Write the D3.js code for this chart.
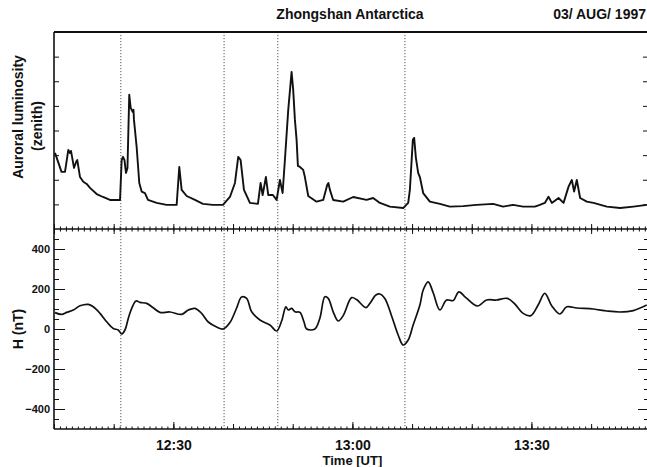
<!DOCTYPE html>
<html><head><meta charset="utf-8">
<script src="https://cdn.jsdelivr.net/npm/d3@7"></script>
<style>
html,body{margin:0;padding:0;background:#fff;}
svg{display:block;font-family:"Liberation Sans",Arial,Helvetica,sans-serif;}
</style></head>
<body><svg id="c" width="647" height="467"></svg>
<script>
// time in minutes after 12:00 UT
const title = "Zhongshan Antarctica";
const dateLabel = "03/ AUG/ 1997";
const xTickValues = [30, 60, 90];
const xTickLabels = ["12:30", "13:00", "13:30"];
const hTickValues = [-400, -200, 0, 200, 400];
const markerTimes = [21.2, 38.5, 47.5, 68.8];

const lumTime = [10.17,11.26,11.84,12.40,12.68,12.85,13.35,13.77,13.90,14.36,14.91,15.48,16.03,17.15,18.21,19.38,21.06,21.34,21.56,21.81,22.06,22.31,22.61,22.85,23.18,23.32,23.40,23.85,24.29,24.69,25.24,25.75,27.20,28.88,30.55,30.99,31.39,32.23,33.62,34.96,36.63,38.31,39.48,40.32,40.87,41.27,41.83,42.83,44.17,44.62,44.96,45.51,45.90,46.68,47.30,47.86,48.31,48.69,49.25,49.81,50.08,50.37,50.65,50.87,51.21,51.76,52.04,52.60,54.00,55.11,55.78,55.98,56.23,56.78,58.46,60.13,62.38,63.48,64.61,66.28,68.51,69.35,69.63,70.13,70.35,70.64,71.02,71.31,71.86,72.98,74.66,76.33,78.56,80.80,83.58,85.26,86.93,88.61,90.57,91.41,92.24,92.86,93.42,94.54,95.38,96.22,96.77,97.15,97.60,98.16,99.28,100.40,102.63,104.86,107.10,109.33];
const lumValue = [3.09,2.32,2.32,3.21,3.09,3.17,2.48,2.76,2.80,2.11,1.92,1.83,1.67,1.42,1.30,1.18,1.18,2.80,2.93,2.80,2.28,2.48,5.45,4.92,4.76,4.84,4.43,3.33,1.87,1.52,1.46,1.18,1.06,0.98,0.98,2.52,1.59,1.34,1.18,1.02,0.98,0.98,1.30,1.87,2.93,2.80,1.59,1.06,1.02,1.87,1.38,2.11,1.38,1.38,1.18,1.99,1.46,2.80,4.84,6.38,5.65,4.43,3.62,2.56,2.52,2.40,2.11,1.34,1.11,1.18,1.79,1.87,1.59,1.18,1.11,1.30,1.18,1.26,1.06,0.91,0.85,1.06,1.59,3.62,3.70,2.89,2.28,2.11,1.46,1.11,1.02,0.91,0.93,0.98,1.02,0.91,0.98,0.91,0.91,0.98,1.06,1.31,1.06,1.26,1.06,1.72,1.99,1.52,1.99,1.26,1.11,1.06,0.91,0.85,0.91,0.98];

const hTime = [10.17,11.29,12.13,13.23,14.36,15.75,16.58,17.71,18.83,19.93,20.77,21.34,21.89,22.45,23.02,23.74,24.41,25.53,26.63,27.76,29.43,31.39,32.50,33.62,34.74,35.85,37.25,38.36,39.48,40.60,41.43,42.28,43.12,44.51,46.18,47.30,48.14,48.86,49.25,49.82,50.37,51.21,51.88,52.33,53.72,54.56,55.39,55.95,56.78,57.62,58.46,59.87,60.70,62.26,62.93,63.94,64.61,65.44,66.57,67.67,68.51,69.35,70.18,71.31,71.86,72.70,73.53,74.66,75.78,76.88,77.84,79.01,80.94,82.48,84.15,85.96,87.22,88.61,89.90,91.12,92.24,93.42,94.76,95.93,97.60,100.37,102.63,104.81,107.07,109.33];
const hValue = [82,73,83,95,116,123,111,78,36,3,-5,-25,-5,53,103,140,133,128,106,83,85,73,95,103,78,35,10,0,32,105,160,153,86,45,20,-10,40,111,95,103,86,83,36,0,0,55,161,153,86,40,67,157,147,107,128,170,175,153,65,-30,-80,-55,20,120,195,236,182,95,145,142,186,157,115,145,145,153,125,78,67,120,178,115,75,111,105,100,90,85,92,120];

const svg = d3.select("#c");
svg.append("rect").attr("width",647).attr("height",467).attr("fill","#fff");

const L = 54, R = 649, T1 = 32, M = 229, B = 429;
const x = d3.scaleLinear().domain([10, 109.7]).range([L, R]);
const yL = d3.scaleLinear().domain([0, 8]).range([M, T1]);
const yH = d3.scaleLinear().domain([-500, 500]).range([B, M]);

// marker dotted lines
svg.append("g").selectAll("line").data(markerTimes).join("line")
  .attr("x1", d=>x(d)).attr("x2", d=>x(d)).attr("y1", T1).attr("y2", B)
  .attr("stroke","#555").attr("stroke-width",1).attr("stroke-dasharray","1.2,1.8");

// curves
const lumData = lumTime.map((t,i)=>[t, lumValue[i]]);
const hData = hTime.map((t,i)=>[t, hValue[i]]);
svg.append("path").datum(lumData)
  .attr("d", d3.line().x(d=>x(d[0])).y(d=>yL(d[1])))
  .attr("fill","none").attr("stroke","#111").attr("stroke-width",1.9).attr("stroke-linejoin","round");
svg.append("path").datum(hData)
  .attr("d", d3.line().x(d=>x(d[0])).y(d=>yH(d[1])).curve(d3.curveCatmullRom.alpha(0.5)))
  .attr("fill","none").attr("stroke","#111").attr("stroke-width",1.7).attr("stroke-linejoin","round");

// axes helpers
function styleAxis(g){ g.select(".domain").remove(); g.selectAll(".tick line").attr("stroke","#111").attr("stroke-width",1); }
const minutes = d3.range(10, 110, 1);
const tens = d3.range(10, 110, 10);

// bottom x axis (inward ticks)
svg.append("g").attr("transform",`translate(0,${B})`)
  .call(d3.axisBottom(x).tickValues(minutes).tickSize(-2.5).tickFormat(""))
  .call(styleAxis);
svg.append("g").attr("transform",`translate(0,${B})`)
  .call(d3.axisBottom(x).tickValues(tens).tickSize(-5).tickFormat(""))
  .call(styleAxis);
svg.append("g").attr("transform",`translate(0,${B})`)
  .call(d3.axisBottom(x).tickValues(xTickValues).tickSize(-7).tickPadding(11).tickFormat((d,i)=>xTickLabels[i]))
  .call(styleAxis)
  .call(g=>g.selectAll("text").attr("font-size",14).attr("font-weight","bold").attr("fill","#111").attr("font-family","'Liberation Sans',Arial,sans-serif"));

// middle boundary ticks
["down","up"].forEach(dir=>{
  svg.append("g").attr("transform",`translate(0,${M})`)
    .call(d3.axisBottom(x).tickValues(minutes).tickSize(dir==="down"?2.5:-2.5).tickFormat(""))
    .call(styleAxis);
  svg.append("g").attr("transform",`translate(0,${M})`)
    .call(d3.axisBottom(x).tickValues(tens).tickSize(dir==="down"?5:-5).tickFormat(""))
    .call(styleAxis);
});

// H axis left/right
const hMinor = d3.range(-450, 500, 50);
svg.append("g").attr("transform",`translate(${L},0)`)
  .call(d3.axisLeft(yH).tickValues(hMinor).tickSize(-5).tickFormat("")).call(styleAxis);
svg.append("g").attr("transform",`translate(${L},0)`)
  .call(d3.axisLeft(yH).tickValues(hTickValues).tickSize(-11).tickFormat(d3.format("d")))
  .call(styleAxis)
  .call(g=>g.selectAll("text").attr("x",-4).attr("font-size",11).attr("font-weight","bold").attr("fill","#111").attr("font-family","'Liberation Sans',Arial,sans-serif"));
svg.append("g").attr("transform",`translate(${R},0)`)
  .call(d3.axisRight(yH).tickValues(hMinor).tickSize(-5).tickFormat("")).call(styleAxis);
svg.append("g").attr("transform",`translate(${R},0)`)
  .call(d3.axisRight(yH).tickValues(hTickValues).tickSize(-11).tickFormat("")).call(styleAxis);

// luminosity axis ticks (unlabeled)
const lumTicks = d3.range(1, 8, 1);
svg.append("g").attr("transform",`translate(${L},0)`)
  .call(d3.axisLeft(yL).tickValues(lumTicks).tickSize(-5).tickFormat("")).call(styleAxis);
svg.append("g").attr("transform",`translate(${R},0)`)
  .call(d3.axisRight(yL).tickValues(lumTicks).tickSize(-6).tickFormat("")).call(styleAxis);

// frames
const frame = svg.append("g").attr("stroke","#111").attr("fill","none");
frame.append("line").attr("x1",L).attr("x2",R).attr("y1",T1).attr("y2",T1).attr("stroke-width",2);
frame.append("line").attr("x1",L).attr("x2",R).attr("y1",M).attr("y2",M).attr("stroke-width",1.6);
frame.append("line").attr("x1",L).attr("x2",R).attr("y1",B).attr("y2",B).attr("stroke-width",1.6);
frame.append("line").attr("x1",L).attr("x2",L).attr("y1",T1).attr("y2",B).attr("stroke-width",1.6);
frame.append("line").attr("x1",R).attr("x2",R).attr("y1",T1).attr("y2",B).attr("stroke-width",1.6);

// texts
const txt = svg.append("g").attr("font-weight","bold").attr("fill","#111");
txt.append("text").attr("x",350).attr("y",19).attr("text-anchor","middle").attr("font-size",14).text(title);
txt.append("text").attr("x",646).attr("y",19).attr("text-anchor","end").attr("font-size",14).text(dateLabel);
txt.append("text").attr("x", x(60)).attr("y",465).attr("text-anchor","middle").attr("font-size",13).text("Time [UT]");
txt.append("text").attr("transform",`translate(23,${yH(0)}) rotate(-90)`).attr("text-anchor","middle").attr("font-size",14).text("H (nT)");
txt.append("text").attr("transform",`translate(23,117) rotate(-90)`).attr("text-anchor","middle").attr("font-size",14).text("Auroral luminosity");
txt.append("text").attr("transform",`translate(42,126) rotate(-90)`).attr("text-anchor","middle").attr("font-size",14).text("(zenith)");
</script></body></html>
